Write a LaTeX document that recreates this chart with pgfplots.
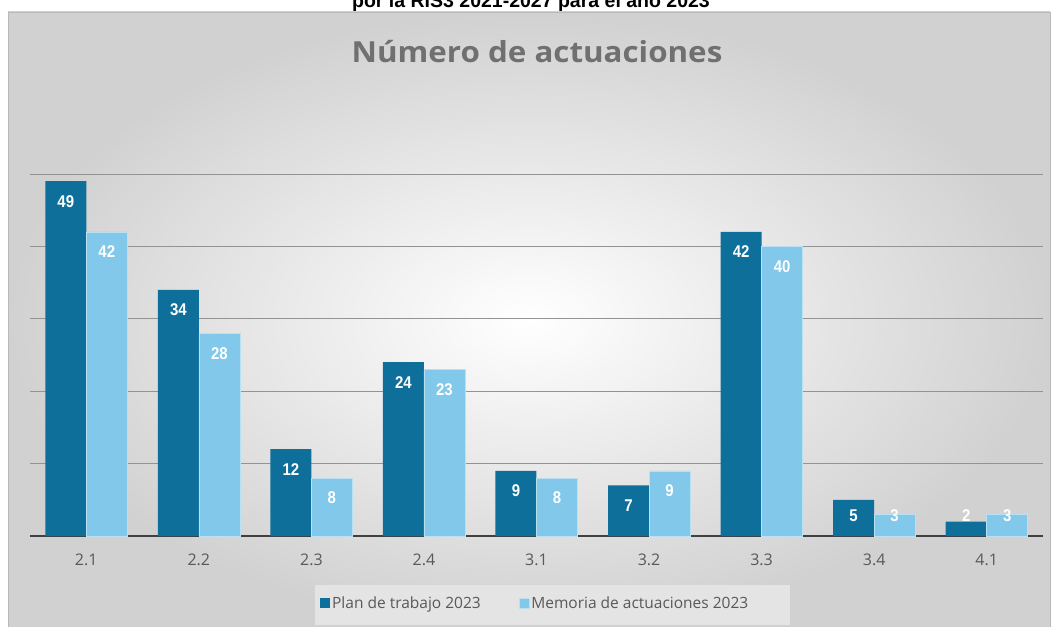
\documentclass[border=0pt]{standalone}
\usepackage{pgfplots}
\pgfplotsset{compat=1.18}
\usepackage{fontspec}
\setmainfont{Open Sans}
\newfontfamily\arialf{Liberation Sans}
\newfontfamily\labelf{Liberation Sans}[FakeStretch=0.88]
\newfontfamily\titlef{Open Sans}[FakeStretch=1.08]
\definecolor{darkbar}{HTML}{0F6F9B}
\definecolor{lightbar}{HTML}{82C8EA}
\definecolor{tickgray}{HTML}{595959}
\definecolor{titlegray}{HTML}{707070}
\definecolor{legendbg}{HTML}{E4E4E4}
\begin{document}
\begin{tikzpicture}[x=1pt,y=1pt]
\useasboundingbox (0,0) rectangle (1056,626);
\clip (0,0) rectangle (1056,626);
\fill[white] (0,0) rectangle (1056,626);
\node[anchor=base, font=\arialf\bfseries\fontsize{19.5}{22}\selectfont] at (531,618) {por la RIS3 2021-2027 para el año 2023};
\shade[inner color=white, outer color=gray!36] (8,0) rectangle (1050,614);
\draw[gray!55, line width=0.8pt] (8,-2) -- (8,614) -- (1050,614) -- (1050,-2);
\node[anchor=base, text=titlegray, font=\titlef\bfseries\fontsize{29}{32}\selectfont] at (537,563) {Número de actuaciones};
\fill[legendbg] (315,1) rectangle (790,41);
\begin{axis}[
  at={(30pt,90pt)}, anchor=south west,
  scale only axis, width=1013pt, height=362pt,
  xmin=-0.5, xmax=8.5, ymin=0, ymax=50,
  ybar=0pt, bar width=41pt,
  axis lines*=left,
  y axis line style={draw=none},
  x axis line style={draw=black!75, line width=1.6pt},
  ytick={10,20,30,40,50}, yticklabels={},
  ymajorgrids, grid style={draw=gray!85, line width=0.7pt},
  major tick length=0pt,
  xtick={0,...,8},
  xticklabels={2.1,2.2,2.3,2.4,3.1,3.2,3.3,3.4,4.1},
  xticklabel style={anchor=center, yshift=-24pt, text=tickgray, font=\fontsize{16}{18}\selectfont},
  legend columns=2,
  legend style={at={(0.2833,-0.185)}, anchor=west, draw=none, fill=none,
    font=\fontsize{15.5}{18}\selectfont, text=tickgray,
    /tikz/every even column/.append style={column sep=36pt}},
  legend image code/.code={\fill[#1] (0pt,-5pt) rectangle (10pt,5pt);},
  /pgf/number format/assume math mode=true,
  nodes near coords,
  visualization depends on={max(-20,20.5-7.24*\thisrow{v}) \as \myshift},
  nodes near coords style={anchor=center, yshift=\myshift pt, text=white, font=\labelf\bfseries\fontsize{17}{19}\selectfont},
]
\addplot[fill=darkbar, draw=none] table[x=x, y=v] {
x v
0 49
1 34
2 12
3 24
4 9
5 7
6 42
7 5
8 2
};
\addlegendentry{Plan de trabajo 2023}
\addplot[fill=lightbar, draw=lightbar!55!white, line width=0.6pt] table[x=x, y=v] {
x v
0 42
1 28
2 8
3 23
4 8
5 9
6 40
7 3
8 3
};
\addlegendentry{Memoria de actuaciones 2023}
\end{axis}
\end{tikzpicture}
\end{document}
